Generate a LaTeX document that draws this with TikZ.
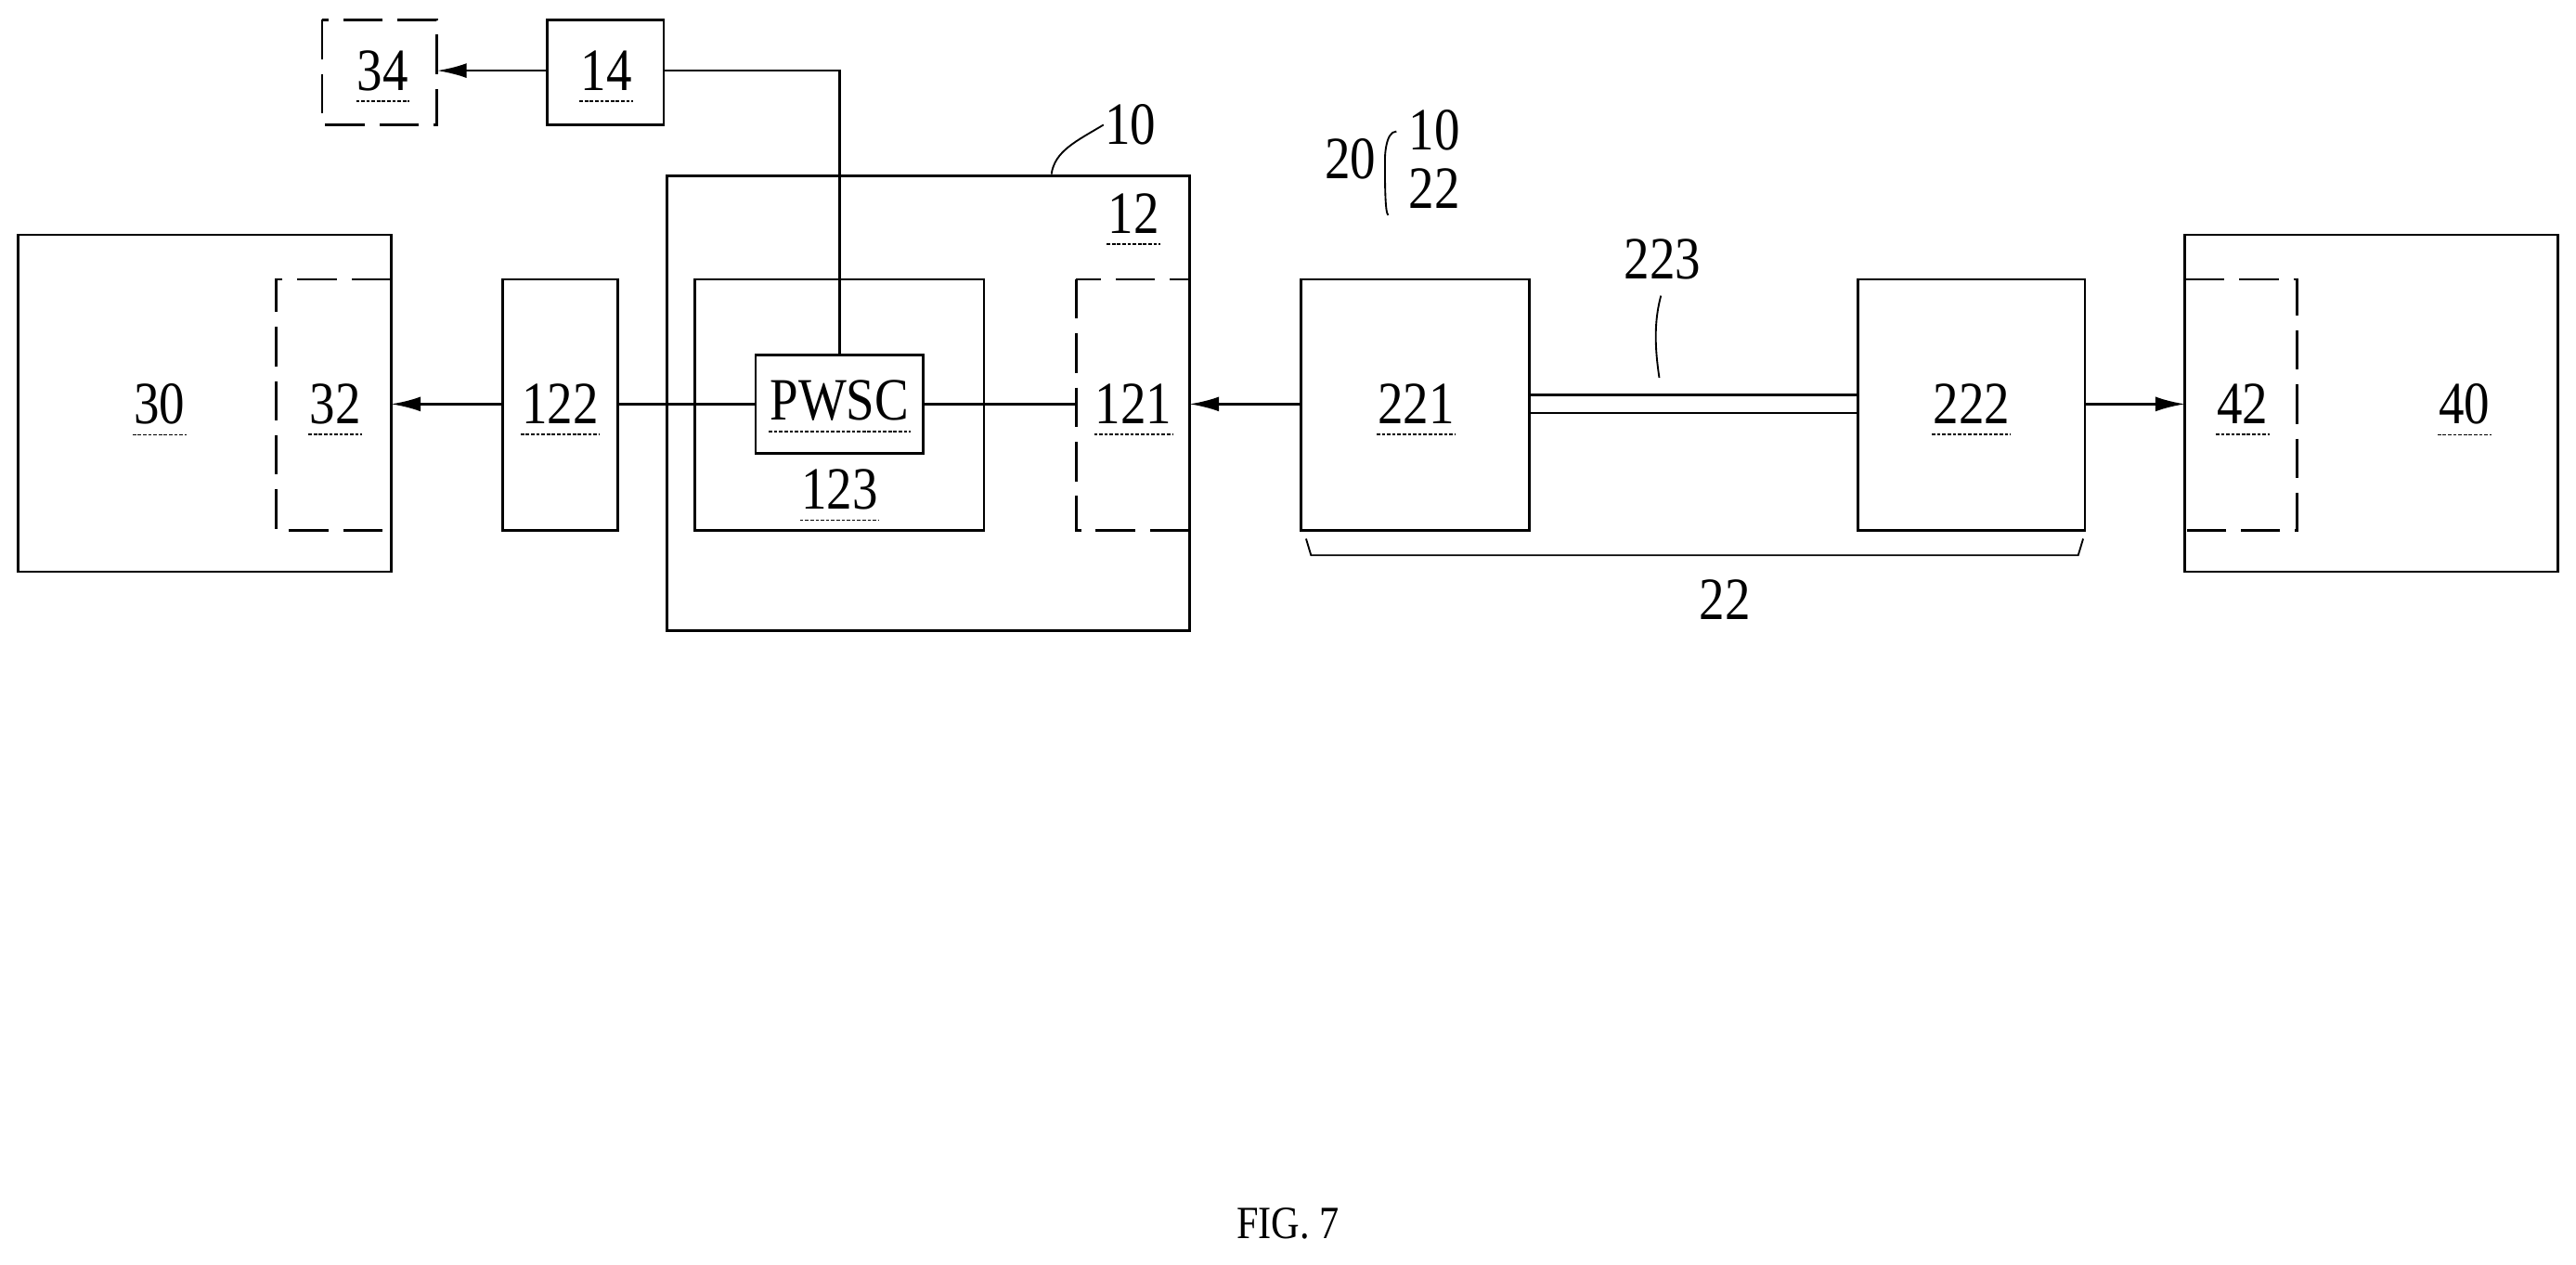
\documentclass[tikz,border=0pt]{standalone}
\usepackage{fontspec}
\setmainfont{Liberation Serif}[FakeStretch=0.85]
\usetikzlibrary{arrows.meta,decorations.pathreplacing}
\begin{document}
\begin{tikzpicture}[x=0.05cm,y=-0.05cm,line width=2.2pt,
  box/.style={draw,rectangle,inner sep=0},
  dbox/.style={box,dash pattern=on 1.2cm off 0.45cm},
  lbl/.style={inner sep=0,font=\fontsize{52}{56}\selectfont},
  uline/.style={line width=1.5pt,dash pattern=on 3pt off 1.5pt},
  arr/.style={-{Latex[length=0.9cm,width=0.45cm]}}]
\useasboundingbox (0,0) rectangle (1568,770);
\newcommand\lab[3]{\node[lbl](#1) at (#2) {#3};
  \draw[uline] ([yshift=-8pt]#1.south west) -- ([yshift=-8pt]#1.south east);}
% boxes
\draw[dbox] (196,12) rectangle (266,76);
\coordinate (n34e) at (266,43);
\draw[box] (333,12) rectangle (404,76);
\coordinate (n14w) at (333,43); \coordinate (n14e) at (404,43);
\draw[box] (406,107) rectangle (724,384);
\draw[box] (423,170) rectangle (599,323);
\draw[box] (460,216) rectangle (562,276);
\coordinate (pt) at (511,216); \coordinate (pw) at (460,246); \coordinate (pe) at (562,246);
\draw[dbox] (655,170) rectangle (724,323);
\coordinate (n121w) at (655,246); \coordinate (n121e) at (724,246);
\draw[box] (306,170) rectangle (376,323);
\coordinate (n122w) at (306,246); \coordinate (n122e) at (376,246);
\draw[box] (11,143) rectangle (238,348);
\draw[dbox] (238,170) -- (168,170) -- (168,323) -- (238,323);
\coordinate (n32e) at (238,246);
\draw[box] (792,170) rectangle (931,323);
\coordinate (n221w) at (792,246); \coordinate (n221e) at (931,246);
\draw[box] (1131,170) rectangle (1269,323);
\coordinate (n222w) at (1131,246); \coordinate (n222e) at (1269,246);
\draw[box] (1330,143) rectangle (1557,348);
\draw[dbox] (1330,170) -- (1398,170) -- (1398,323) -- (1330,323);
\coordinate (n42w) at (1330,246);
% connectors
\draw[arr] (n14w) -- (n34e);
\draw (n14e) -| (pt);
\draw[arr] (n122w) -- (n32e);
\draw (n122e) -- (pw);
\draw (pe) -- (n121w);
\draw[arr] (n221w) -- (n121e);
\draw[arr] (n222e) -- (n42w);
\draw ([yshift=5.5*0.05cm]n221e) -- ([yshift=5.5*0.05cm]n222w);
\draw ([yshift=-5.5*0.05cm]n221e) -- ([yshift=-5.5*0.05cm]n222w);
% labels
\lab{l34}{233,43}{34}
\lab{l14}{369,43}{14}
\lab{l12}{690,130}{12}
\lab{l123}{511,298}{123}
\lab{lpw}{511,244}{PWSC}
\lab{l121}{690,246}{121}
\lab{l122}{341,246}{122}
\lab{l30}{97,246}{30}
\lab{l32}{204,246}{32}
\lab{l221}{862,246}{221}
\lab{l222}{1200,246}{222}
\lab{l42}{1365,246}{42}
\lab{l40}{1500,246}{40}
\node[lbl] (t10) at (688,76) {10};
\draw[line width=1.5pt] (640,106) .. controls (642,92) and (655,86) .. (t10.west);
\node[lbl] (t223) at (1012,158) {223};
\draw[line width=1.5pt] (1011,180) .. controls (1007,195) and (1007,210) .. (1010,230);
\draw[line width=1.5pt] (795,328) -- (798,338) -- (1265,338) -- (1268,328);
\node[lbl] (t22) at (1050,365) {22};
\node[lbl] (t20) at (822,97) {20};
\node[lbl] (t10b) at (873,79) {10};
\node[lbl] (t22b) at (873,115) {22};
\draw[line width=1.5pt] (850,80) .. controls (843,80) and (843,97) .. (843,97) .. controls (843,110) and (843,130) .. (845,131);
\node[lbl,font=\fontsize{40}{44}\selectfont] (fig) at (784,745) {FIG. 7};
\end{tikzpicture}
\end{document}
